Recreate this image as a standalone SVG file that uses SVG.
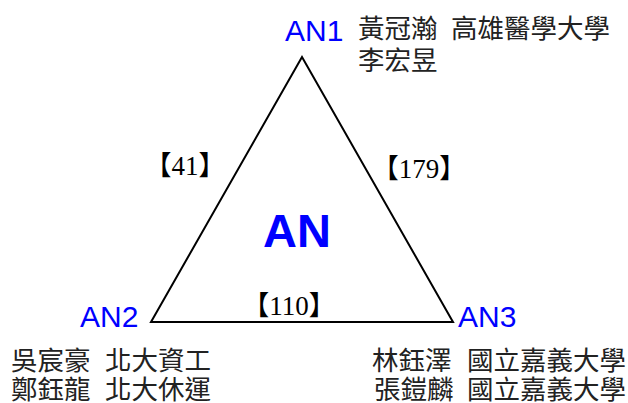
<svg xmlns="http://www.w3.org/2000/svg" width="628" height="403" viewBox="0 0 628 403">
<style>
.an{font-family:"Liberation Sans",Arial,sans-serif;font-size:30px;fill:#0000ff}
.nm{font-family:"Noto Sans CJK TC","Noto Sans CJK SC",sans-serif;font-size:26.5px;fill:#222}
.lb{font-family:"Liberation Serif","Noto Sans CJK TC",serif;font-size:27px;fill:#000;text-anchor:middle}
</style>
<rect width="628" height="403" fill="#fff"/>
<g id="connectors">
<polygon points="302,57 151,322 453,322" fill="none" stroke="#000" stroke-width="2" stroke-linejoin="miter"/>
<text class="lb" x="185" y="175">【41】</text>
<text class="lb" x="419" y="178">【179】</text>
<text class="lb" x="289" y="315">【110】</text>
</g>
<g id="AN">
<text x="297" y="247" font-family="Liberation Sans,Arial,sans-serif" font-size="47" font-weight="bold" fill="#0000ff" text-anchor="middle">AN</text>
</g>
<g id="AN1">
<text class="an" x="285" y="41">AN1</text>
<text class="nm" x="358" y="38">黃冠瀚</text>
<text class="nm" x="451" y="38">高雄醫學大學</text>
<text class="nm" x="358" y="70">李宏昱</text>
</g>
<g id="AN2">
<text class="an" x="80" y="327">AN2</text>
<text class="nm" x="11" y="370">吳宸豪</text>
<text class="nm" x="105" y="370">北大資工</text>
<text class="nm" x="11" y="399">鄭鈺龍</text>
<text class="nm" x="105" y="399">北大休運</text>
</g>
<g id="AN3">
<text class="an" x="458" y="327">AN3</text>
<text class="nm" x="372" y="370">林鈺澤</text>
<text class="nm" x="467" y="370">國立嘉義大學</text>
<text class="nm" x="374" y="399">張鎧麟</text>
<text class="nm" x="467" y="399">國立嘉義大學</text>
</g>
</svg>
